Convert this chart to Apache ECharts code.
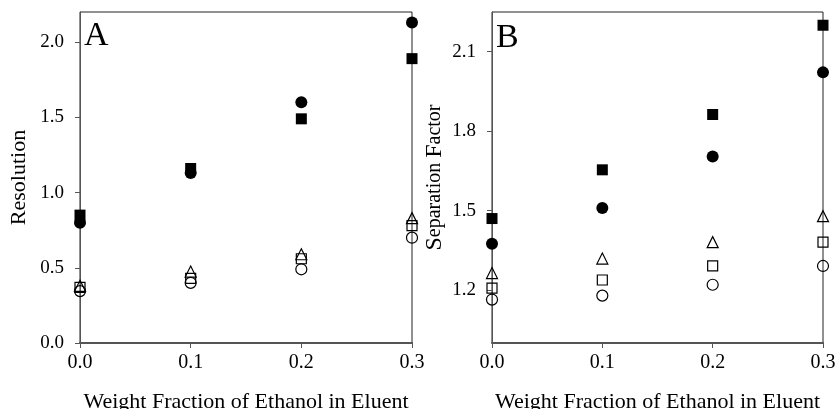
<!DOCTYPE html>
<html>
<head>
<meta charset="utf-8">
<script src="https://cdn.jsdelivr.net/npm/echarts@6/dist/echarts.min.js"></script>
<style>
  html, body { margin: 0; padding: 0; background: #fff; }
  #chart { width: 835px; height: 409px; }
</style>
</head>
<body>
<div id="chart"></div>
<script>
// weight fraction of ethanol in eluent
const fractions = [0.0, 0.1, 0.2, 0.3]
const xTicks = [0.0, 0.1, 0.2, 0.3]

// panel A: resolution
const resFilledCircle = [0.80, 1.13, 1.60, 2.13]
const resFilledSquare = [0.85, 1.16, 1.49, 1.89]
const resOpenTriangle = [0.38, 0.475, 0.59, 0.83]
const resOpenSquare = [0.37, 0.43, 0.56, 0.78]
const resOpenCircle = [0.345, 0.40, 0.49, 0.70]
const resTicks = [0.0, 0.5, 1.0, 1.5, 2.0]

// panel B: separation factor
const sepFilledSquare = [1.47, 1.654, 1.863, 2.20]
const sepFilledCircle = [1.375, 1.51, 1.704, 2.022]
const sepOpenTriangle = [1.264, 1.319, 1.381, 1.479]
const sepOpenSquare = [1.207, 1.238, 1.291, 1.381]
const sepOpenCircle = [1.164, 1.179, 1.22, 1.291]
const sepTicks = [1.2, 1.5, 1.8, 2.1]

const SERIF = '"Liberation Serif", "DejaVu Serif", serif'
const axisColor = '#555'

function pts(values) {
  return fractions.map((x, i) => [x, values[i]])
}

function marker(name, idx, values, symbol, size, filled) {
  return {
    name,
    type: 'scatter',
    xAxisIndex: idx,
    yAxisIndex: idx,
    symbol,
    symbolSize: size,
    data: pts(values),
    itemStyle: filled
      ? { color: '#000', opacity: 1 }
      : { color: 'rgba(0,0,0,0)', borderColor: '#000', borderWidth: 1.2, opacity: 1 },
    emphasis: { disabled: true },
  }
}

function xAxis(idx) {
  return {
    type: 'value',
    gridIndex: idx,
    min: 0,
    max: 0.3,
    interval: 0.1,
    name: 'Weight Fraction of Ethanol in Eluent',
    nameLocation: 'middle',
    nameGap: 48,
    nameTextStyle: { fontFamily: SERIF, fontSize: 22, color: '#000' },
    axisLine: { show: true, onZero: false, lineStyle: { color: axisColor, width: 2 } },
    axisTick: { show: true, inside: false, length: 5, lineStyle: { color: axisColor }, customValues: xTicks },
    axisLabel: {
      fontFamily: SERIF, fontSize: 20, color: '#000', margin: 10,
      customValues: xTicks,
      formatter: (v) => v.toFixed(1),
    },
    splitLine: { show: false },
  }
}

function yAxis(idx, min, max, ticks, name, gap) {
  return {
    type: 'value',
    gridIndex: idx,
    min,
    max,
    name,
    nameLocation: 'middle',
    nameGap: gap,
    nameTextStyle: name.indexOf('{') === 0
      ? {
          fontFamily: SERIF, color: '#000',
          rich: {
            big: { fontFamily: SERIF, fontSize: 24, color: '#000' },
            sm: { fontFamily: SERIF, fontSize: 20, color: '#000' },
          },
        }
      : { fontFamily: SERIF, fontSize: 22, color: '#000' },
    axisLine: { show: true, onZero: false, lineStyle: { color: axisColor, width: 1 } },
    axisTick: { show: true, length: 5, lineStyle: { color: axisColor }, customValues: ticks },
    axisLabel: {
      fontFamily: SERIF, fontSize: 19, color: '#000', margin: 16,
      customValues: ticks,
      formatter: (v) => v.toFixed(1),
    },
    splitLine: { show: false },
  }
}

const chart = echarts.init(document.getElementById('chart'))

chart.setOption({
  animation: false,
  backgroundColor: '#fff',
  grid: [
    { left: 80, top: 12, width: 332, height: 331, outerBoundsMode: 'none', containLabel: false, show: true, borderColor: '#222', borderWidth: 1, backgroundColor: 'transparent' },
    { left: 492, top: 12, width: 331, height: 331, outerBoundsMode: 'none', containLabel: false, show: true, borderColor: '#222', borderWidth: 1, backgroundColor: 'transparent' },
  ],
  xAxis: [xAxis(0), xAxis(1)],
  yAxis: [
    yAxis(0, 0, 2.2, resTicks, 'Resolution', 50),
    yAxis(1, 1.0, 2.25, sepTicks, '{big|S}{sm|eparation }{big|F}{sm|actor}', 45),
  ],
  graphic: [
    { type: 'text', x: 84, y: 36, style: { text: 'A', font: '34px ' + SERIF, fill: '#000', textVerticalAlign: 'middle' } },
    { type: 'text', x: 496, y: 38, style: { text: 'B', font: '34px ' + SERIF, fill: '#000', textVerticalAlign: 'middle' } },
  ],
  series: [
    marker('A filled circle', 0, resFilledCircle, 'circle', 12, true),
    marker('A filled square', 0, resFilledSquare, 'rect', 11, true),
    marker('A open triangle', 0, resOpenTriangle, 'triangle', 11, false),
    marker('A open square', 0, resOpenSquare, 'rect', 10, false),
    marker('A open circle', 0, resOpenCircle, 'circle', 11, false),
    marker('B filled square', 1, sepFilledSquare, 'rect', 11, true),
    marker('B filled circle', 1, sepFilledCircle, 'circle', 12, true),
    marker('B open triangle', 1, sepOpenTriangle, 'triangle', 11, false),
    marker('B open square', 1, sepOpenSquare, 'rect', 10, false),
    marker('B open circle', 1, sepOpenCircle, 'circle', 11, false),
  ],
})
</script>
</body>
</html>
